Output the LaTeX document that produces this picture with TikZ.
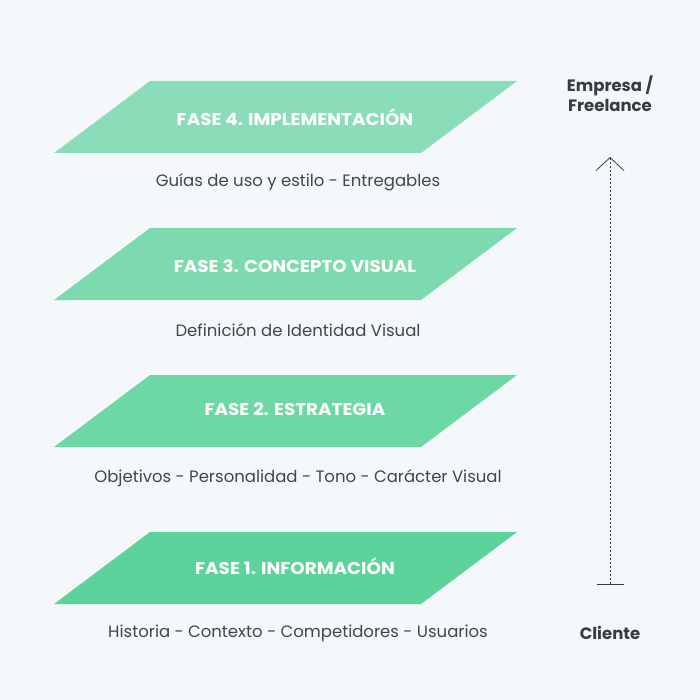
\documentclass[tikz,border=0pt]{standalone}
\usepackage{fontspec}
\setmainfont{Poppins}
\newfontfamily\phasefont[FakeStretch=1.08]{Poppins}
\usetikzlibrary{arrows.meta}
\definecolor{bg}{HTML}{F5F8FA}
\definecolor{gfour}{HTML}{8ADDB8}
\definecolor{gthree}{HTML}{7DDAAE}
\definecolor{gtwo}{HTML}{6ED7A6}
\definecolor{gone}{HTML}{5CD39B}
\definecolor{txt}{HTML}{40464D}
\definecolor{dark}{HTML}{363C43}
\tikzset{
  phase/.style={text=white,font=\phasefont\fontsize{17}{20}\selectfont\bfseries,anchor=center,inner sep=0pt},
  sub/.style={text=txt,font=\fontsize{16.5}{19}\selectfont,anchor=center,inner sep=0pt},
  side/.style={text=dark,font=\fontsize{16.5}{19.5}\selectfont\bfseries,align=center,anchor=center,inner sep=0pt},
}
\newcommand{\para}[2]{\fill[#1] (150,#2) -- (517,#2) -- (421,#2+72) -- (54,#2+72) -- cycle;}
\begin{document}
\begin{tikzpicture}[x=1pt,y=-1pt]
\useasboundingbox (0,0) rectangle (700,700);
\fill[bg] (0,0) rectangle (700,700);
\para{gfour}{81}
\para{gthree}{228}
\para{gtwo}{375}
\para{gone}{532}
\node[phase] (p4) at (295,117.5) {FASE 4. IMPLEMENTACIÓN};
\node[phase] (p3) at (295,266) {FASE 3. CONCEPTO VISUAL};
\node[phase] (p2) at (295,409) {FASE 2. ESTRATEGIA};
\node[phase] (p1) at (295,566.5) {FASE 1. INFORMACIÓN};
\node[sub] (s4) at (298,182.5) {Guías de uso y estilo - Entregables};
\node[sub] (s3) at (298,330.5) {Definición de Identidad Visual};
\node[sub] (s2) at (298,478) {Objetivos - Personalidad - Tono - Carácter Visual};
\node[sub] (s1) at (298,633) {Historia - Contexto - Competidores - Usuarios};
\node[side] (emp) at (610,93.5) {Empresa /\\Freelance};
\node[side] (cli) at (610,632.5) {Cliente};
\coordinate (a0) at (610,585);
\coordinate (a1) at (610,157);
\draw[dark,line width=0.8pt,dash pattern=on 2pt off 2pt,{Bar[width=27pt]}-{Straight Barb[length=13pt,width=28pt]}] (a0) -- (a1);
\end{tikzpicture}
\end{document}
